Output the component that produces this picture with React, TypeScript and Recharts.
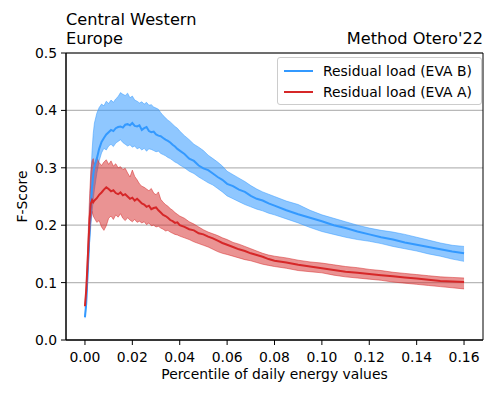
import React from "react";
import {
  ComposedChart,
  Area,
  Line,
  XAxis,
  YAxis,
  CartesianGrid,
  Legend,
  ReferenceArea,
  Label,
} from "recharts";

// percentile of daily energy values (x)
const percentile = [
  0, 0.0005, 0.001, 0.0015, 0.002, 0.0025, 0.003, 0.0035, 0.004, 0.005,
  0.006, 0.007, 0.008, 0.009, 0.01, 0.011, 0.012, 0.013, 0.014, 0.015,
  0.016, 0.017, 0.018, 0.019, 0.02, 0.021, 0.022, 0.023, 0.024, 0.025,
  0.026, 0.027, 0.028, 0.029, 0.03, 0.031, 0.032, 0.033, 0.034, 0.035,
  0.036, 0.037, 0.038, 0.039, 0.04, 0.042, 0.044, 0.046, 0.048, 0.05,
  0.052, 0.054, 0.056, 0.058, 0.06, 0.0625, 0.065, 0.0675, 0.07, 0.0725,
  0.075, 0.0775, 0.08, 0.085, 0.09, 0.095, 0.1, 0.105, 0.11, 0.115,
  0.12, 0.125, 0.13, 0.135, 0.14, 0.145, 0.15, 0.155, 0.16,
];

// Residual load (EVA B)
const evaBMean = [
  0.04, 0.062, 0.105, 0.15, 0.195, 0.235, 0.265, 0.288, 0.302, 0.316,
  0.333, 0.345, 0.352, 0.358, 0.362, 0.366, 0.364, 0.369, 0.371, 0.372,
  0.37, 0.375, 0.376, 0.374, 0.378, 0.373, 0.372, 0.374, 0.366, 0.369,
  0.371, 0.364, 0.362, 0.363, 0.358, 0.356, 0.355, 0.352, 0.349, 0.347,
  0.344, 0.34, 0.337, 0.333, 0.33, 0.324, 0.316, 0.312, 0.304, 0.299,
  0.296, 0.29, 0.284, 0.279, 0.272, 0.268, 0.262, 0.258, 0.251, 0.246,
  0.243, 0.238, 0.234, 0.226, 0.219, 0.213, 0.207, 0.2, 0.195, 0.189,
  0.184, 0.179, 0.175, 0.17, 0.166, 0.162, 0.158, 0.154, 0.151,
];
const evaBHigh = [
  0.042, 0.066, 0.112, 0.165, 0.225, 0.285, 0.33, 0.36, 0.378, 0.395,
  0.405, 0.411, 0.408, 0.416, 0.412, 0.418, 0.414, 0.42, 0.424, 0.431,
  0.428, 0.426, 0.43, 0.422, 0.425, 0.418, 0.416, 0.413, 0.415, 0.411,
  0.414, 0.409, 0.41, 0.406, 0.404, 0.402, 0.396, 0.391, 0.387, 0.383,
  0.38, 0.376, 0.372, 0.369, 0.364, 0.356, 0.349, 0.341, 0.336, 0.33,
  0.322, 0.316, 0.31, 0.303, 0.294, 0.288, 0.282, 0.276, 0.269, 0.263,
  0.258, 0.254, 0.25, 0.242, 0.236, 0.226, 0.218, 0.212, 0.206, 0.2,
  0.195, 0.191, 0.188, 0.184, 0.179, 0.174, 0.169, 0.165, 0.163,
];
const evaBLow = [
  0.038, 0.058, 0.098, 0.138, 0.172, 0.2, 0.222, 0.245, 0.262, 0.29,
  0.312, 0.326, 0.334, 0.331, 0.338, 0.341, 0.337, 0.343, 0.346, 0.349,
  0.344, 0.341, 0.338, 0.34, 0.336, 0.338, 0.333, 0.335, 0.331, 0.334,
  0.329, 0.333, 0.332, 0.33, 0.328, 0.329, 0.325, 0.323, 0.321, 0.318,
  0.316, 0.313, 0.31, 0.308, 0.305, 0.3, 0.294, 0.29, 0.284, 0.279,
  0.274, 0.27, 0.264, 0.258, 0.251, 0.246, 0.241, 0.236, 0.232, 0.228,
  0.225, 0.221, 0.218, 0.211, 0.204, 0.196, 0.189, 0.184, 0.179, 0.175,
  0.172, 0.168, 0.163, 0.159, 0.155, 0.15, 0.146, 0.141, 0.137,
];

// Residual load (EVA A)
const evaAMean = [
  0.059, 0.085, 0.125, 0.17, 0.212, 0.238, 0.244, 0.24, 0.243, 0.247,
  0.253, 0.257, 0.262, 0.266, 0.263, 0.259, 0.261, 0.256, 0.254, 0.257,
  0.252, 0.254, 0.25, 0.246, 0.248, 0.243, 0.246, 0.242, 0.238, 0.236,
  0.232, 0.234, 0.228, 0.23, 0.231, 0.226, 0.222, 0.218, 0.216, 0.213,
  0.209, 0.207, 0.204, 0.205, 0.2, 0.197, 0.193, 0.191, 0.186, 0.184,
  0.18, 0.177, 0.173, 0.169, 0.166, 0.162, 0.158, 0.155, 0.151, 0.148,
  0.145, 0.141, 0.138, 0.135, 0.131, 0.128, 0.125, 0.122, 0.119, 0.117,
  0.115, 0.113, 0.111, 0.109, 0.107, 0.105, 0.103, 0.102, 0.101,
];
const evaAHigh = [
  0.061, 0.09, 0.14, 0.2, 0.255, 0.295, 0.312, 0.316, 0.305, 0.318,
  0.309, 0.304, 0.31, 0.314, 0.306, 0.312, 0.303, 0.307, 0.3, 0.302,
  0.297, 0.299, 0.291, 0.284, 0.296, 0.285, 0.279, 0.272, 0.268, 0.266,
  0.263, 0.26, 0.264, 0.256, 0.253, 0.258, 0.245, 0.24, 0.236, 0.233,
  0.229, 0.226, 0.222, 0.219, 0.216, 0.212, 0.206, 0.202, 0.197, 0.192,
  0.188, 0.185, 0.182, 0.178, 0.175, 0.17, 0.167, 0.163, 0.159, 0.155,
  0.151, 0.148, 0.146, 0.143, 0.139, 0.136, 0.134, 0.131, 0.128, 0.126,
  0.123, 0.121, 0.118, 0.116, 0.114, 0.112, 0.11, 0.109, 0.108,
];
const evaALow = [
  0.057, 0.08, 0.112, 0.15, 0.185, 0.21, 0.224, 0.216, 0.212, 0.205,
  0.208, 0.197, 0.191, 0.199, 0.212, 0.216, 0.21, 0.218, 0.214, 0.22,
  0.212, 0.208, 0.213, 0.209, 0.206, 0.21, 0.205, 0.207, 0.204, 0.206,
  0.201, 0.204, 0.199, 0.2, 0.197, 0.198, 0.195, 0.193, 0.19, 0.191,
  0.188, 0.186, 0.184, 0.183, 0.181, 0.178, 0.175, 0.171, 0.168, 0.165,
  0.162, 0.158, 0.154, 0.151, 0.149, 0.146, 0.143, 0.14, 0.138, 0.135,
  0.132, 0.13, 0.128, 0.125, 0.121, 0.119, 0.117, 0.113, 0.11, 0.108,
  0.106, 0.104, 0.101, 0.099, 0.097, 0.095, 0.093, 0.091, 0.089,
];

const seriesNames = ["Residual load (EVA B)", "Residual load (EVA A)"];
const xTicks = [0, 0.02, 0.04, 0.06, 0.08, 0.1, 0.12, 0.14, 0.16];
const yTicks = [0, 0.1, 0.2, 0.3, 0.4, 0.5];

const BLUE = "#3399ff";
const RED = "#d62728";
const FONT = "'DejaVu Sans', sans-serif";

const data = percentile.map((x, i) => ({
  x,
  bMean: evaBMean[i],
  bBand: [evaBLow[i], evaBHigh[i]],
  aMean: evaAMean[i],
  aBand: [evaALow[i], evaAHigh[i]],
}));

const renderLegend = (props: any) => {
  const items = (props.payload || [])
    .filter((p: any) => p.type !== "none")
    .sort((a: any, b: any) => seriesNames.indexOf(a.value) - seriesNames.indexOf(b.value));
  return (
    <div
      style={{
        border: "1px solid #cccccc",
        borderRadius: 3,
        background: "rgba(255,255,255,0.8)",
        padding: "2px 6px 2px 6px",
        fontFamily: FONT,
        fontSize: 13.9,
        color: "#000",
      }}
    >
      {items.map((p: any) => (
        <div key={p.value} style={{ display: "flex", alignItems: "center", height: 21 }}>
          <svg width={29} height={4} style={{ flex: "none" }}>
            <line x1={0} y1={2} x2={29} y2={2} stroke={p.color} strokeWidth={2} />
          </svg>
          <span style={{ marginLeft: 10, whiteSpace: "nowrap" }}>{p.value}</span>
        </div>
      ))}
    </div>
  );
};

const titleStyle: React.CSSProperties = {
  position: "absolute",
  fontFamily: FONT,
  fontSize: 16.2,
  lineHeight: "18.9px",
  height: 18.9,
  color: "#000",
  whiteSpace: "nowrap",
};

export default function App() {
  return (
    <div style={{ position: "absolute", left: 0, top: 0, width: 498, height: 399, background: "#fff" }}>
      <div style={{ ...titleStyle, left: 66, top: 10.6 }}>Central Western</div>
      <div style={{ ...titleStyle, left: 66, top: 29.5 }}>Europe</div>
      <div style={{ ...titleStyle, right: 15, top: 29.5 }}>Method Otero'22</div>
      <ComposedChart
        width={498}
        height={399}
        data={data}
        margin={{ top: 53, right: 15, bottom: 0, left: 0 }}
        style={{ fontFamily: FONT }}
      >
        <CartesianGrid vertical={false} stroke="#b8b8b8" strokeWidth={1.2} />
        <XAxis
          dataKey="x"
          type="number"
          domain={[-0.008, 0.168]}
          ticks={xTicks}
          interval={0}
          height={59}
          tickFormatter={(v) => Number(v).toFixed(2)}
          tick={{ fill: "#000", fontSize: 13.9, fontFamily: FONT }}
          tickSize={5}
          tickMargin={7}
          stroke="#000"
          allowDataOverflow
        >
          <Label
            content={({ viewBox }: any) => (
              <text
                x={viewBox.x + viewBox.width / 2}
                y={viewBox.y + 34}
                textAnchor="middle"
                dominantBaseline="central"
                fontSize={13.9}
                fontFamily={FONT}
                fill="#000"
              >
                Percentile of daily energy values
              </text>
            )}
          />
        </XAxis>
        <YAxis
          type="number"
          domain={[0, 0.5]}
          ticks={yTicks}
          interval={0}
          width={66}
          tickFormatter={(v) => Number(v).toFixed(1)}
          tick={{ fill: "#000", fontSize: 13.9, fontFamily: FONT }}
          tickSize={5}
          tickMargin={4}
          stroke="#000"
        >
          <Label
            content={({ viewBox }: any) => {
              const cx = viewBox.x + 22;
              const cy = viewBox.y + viewBox.height / 2;
              return (
                <text
                  x={cx}
                  y={cy}
                  transform={`rotate(-90 ${cx} ${cy})`}
                  textAnchor="middle"
                  dominantBaseline="central"
                  fontSize={13.9}
                  fontFamily={FONT}
                  fill="#000"
                >
                  F-Score
                </text>
              );
            }}
          />
        </YAxis>
        <Area
          dataKey="bBand"
          type="linear"
          fill={BLUE}
          fillOpacity={0.55}
          stroke={BLUE}
          strokeOpacity={0.5}
          strokeWidth={1}
          legendType="none"
          isAnimationActive={false}
        />
        <Line
          dataKey="bMean"
          name={seriesNames[0]}
          type="linear"
          stroke={BLUE}
          strokeWidth={2}
          dot={false}
          isAnimationActive={false}
        />
        <Area
          dataKey="aBand"
          type="linear"
          fill={RED}
          fillOpacity={0.5}
          stroke={RED}
          strokeOpacity={0.5}
          strokeWidth={1}
          legendType="none"
          isAnimationActive={false}
        />
        <Line
          dataKey="aMean"
          name={seriesNames[1]}
          type="linear"
          stroke={RED}
          strokeWidth={2}
          dot={false}
          isAnimationActive={false}
        />
        <ReferenceArea
          x1={-0.008}
          x2={0.168}
          y1={0}
          y2={0.5}
          fill="none"
          stroke="#000"
          strokeWidth={1}
          ifOverflow="visible"
        />
        <Legend
          layout="vertical"
          align="center"
          verticalAlign="middle"
          content={renderLegend}
          wrapperStyle={{ position: "absolute", left: 277, top: 57, width: 205 }}
        />
      </ComposedChart>
    </div>
  );
}
